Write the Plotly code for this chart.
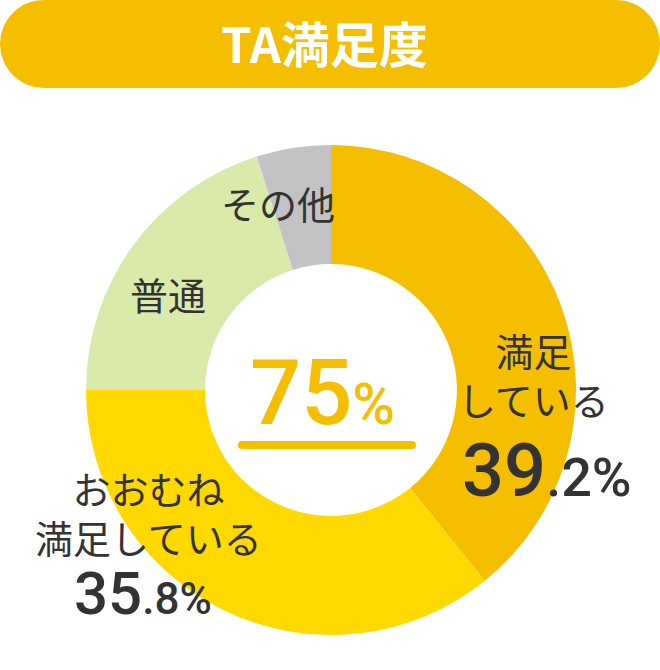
import plotly.graph_objects as go

W, H = 660, 670

# data
labels = ["満足している", "おおむね満足している", "普通", "その他"]
values = [39.2, 35.8, 20.1, 4.9]
colors = ["#F5BF00", "#FFD900", "#DAEAAB", "#C3C3C6"]
title_text = "TA満足度"
center_value = "75"

GOLD = "#F5BF00"
DARK = "#333333"
JP = "Noto Sans CJK JP"
NUM = "Roboto, Noto Sans CJK JP"


def px(x):
    return x / W


def py(y):
    return 1 - y / H


def pill(x0, x1, y0, y1, color):
    # rounded bar built from a rect and two end circles (pixel coords)
    r = (y1 - y0) / 2
    common = dict(xref="paper", yref="paper", fillcolor=color, line=dict(width=0), layer="above")
    return [
        dict(type="rect", x0=px(x0 + r), x1=px(x1 - r), y0=py(y1), y1=py(y0), **common),
        dict(type="circle", x0=px(x0), x1=px(x0 + 2 * r), y0=py(y1), y1=py(y0), **common),
        dict(type="circle", x0=px(x1 - 2 * r), x1=px(x1), y0=py(y1), y1=py(y0), **common),
    ]


cx, cy, R = 331, 390, 245

fig = go.Figure()
fig.add_trace(go.Pie(
    labels=labels,
    values=values,
    marker=dict(colors=colors, line=dict(width=0)),
    hole=0.514,
    sort=False,
    direction="clockwise",
    rotation=0,
    textinfo="none",
    hoverinfo="skip",
    showlegend=False,
    domain=dict(x=[px(cx - R), px(cx + R)], y=[py(cy + R), py(cy - R)]),
))

shapes = []
shapes += pill(0, 660, 0, 88, GOLD)
shapes += pill(238, 416, 441, 449, GOLD)


def note(x, y, text, size, color=DARK, family=JP, weight=400):
    return dict(x=px(x), y=py(y), xref="paper", yref="paper", text=text,
                showarrow=False, xanchor="center", yanchor="middle", align="center",
                font=dict(family=family, size=size, color=color, weight=weight))


annotations = [
    note(324, 41, title_text, 49, color="white", weight=700),
    note(322, 393, center_value + '<span style="font-size:58px">%</span>', 90,
         color=GOLD, family=NUM, weight=500),
    note(533, 374, "満足<br>している", 38),
    note(547, 470, '39<span style="font-size:54px">.2%</span>', 74, family=NUM, weight=500),
    note(278, 202, "その他", 38),
    note(168, 293, "普通", 38),
    note(148, 512, "おおむね<br>満足している", 38),
    note(143, 593, '35<span style="font-size:44px">.8%</span>', 60, family=NUM, weight=500),
]

fig.update_layout(
    width=W,
    height=H,
    margin=dict(l=0, r=0, t=0, b=0),
    paper_bgcolor="white",
    plot_bgcolor="white",
    shapes=shapes,
    annotations=annotations,
)

fig.write_html("out.html", config={"displayModeBar": False},
               post_script="document.body.style.margin='0';")
